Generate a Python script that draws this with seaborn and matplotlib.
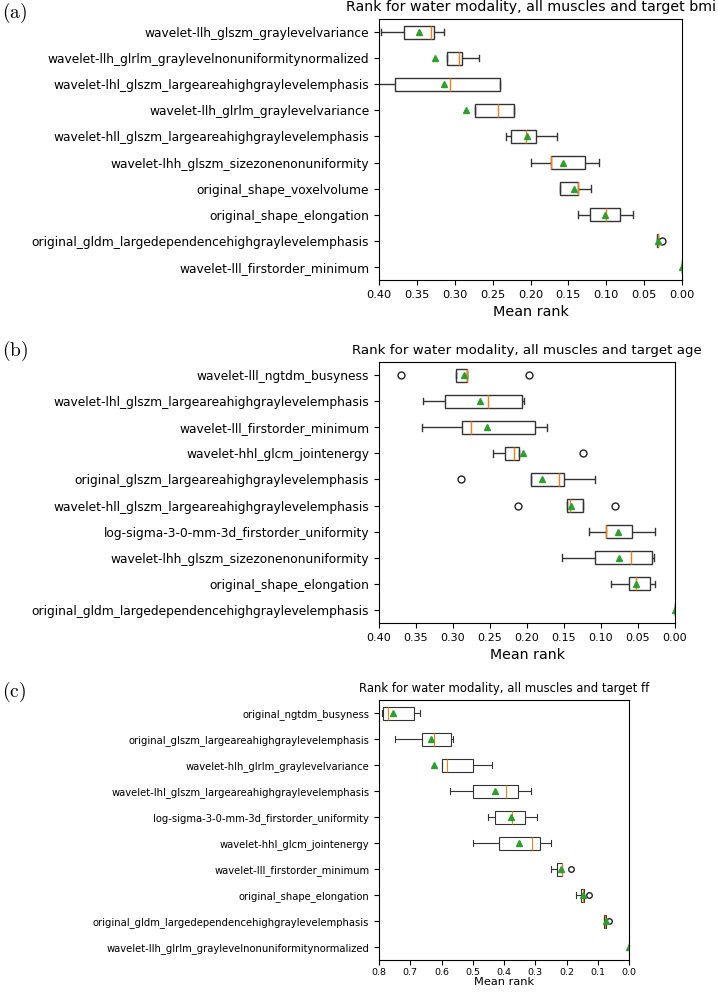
import numpy as np
import pandas as pd
import seaborn as sns
import matplotlib.pyplot as plt

plt.rcParams['mathtext.fontset'] = 'cm'

# (a) target bmi
features_bmi = ['wavelet-llh_glszm_graylevelvariance',
                'wavelet-llh_glrlm_graylevelnonuniformitynormalized',
                'wavelet-lhl_glszm_largeareahighgraylevelemphasis',
                'wavelet-llh_glrlm_graylevelvariance',
                'wavelet-hll_glszm_largeareahighgraylevelemphasis',
                'wavelet-lhh_glszm_sizezonenonuniformity',
                'original_shape_voxelvolume',
                'original_shape_elongation',
                'original_gldm_largedependencehighgraylevelemphasis',
                'wavelet-lll_firstorder_minimum']
ranks_bmi = [[0.314, 0.3269, 0.3313, 0.3665, 0.398],
             [0.2674, 0.2899, 0.2938, 0.3106, 0.468],
             [0.2401, 0.2401, 0.3061, 0.3788, 0.4054],
             [0.2216, 0.2216, 0.2432, 0.2731, 0.4675],
             [0.1652, 0.1929, 0.2062, 0.2255, 0.2326],
             [0.1101, 0.1286, 0.1727, 0.1727, 0.1995],
             [0.1198, 0.137, 0.137, 0.1608, 0.1608],
             [0.0648, 0.0815, 0.1009, 0.1211, 0.1379],
             [0.0264, 0.0316, 0.0322, 0.0328, 0.0333],
             [0.0, 0.0, 0.0, 0.0, 0.0]]

# (b) target age
features_age = ['wavelet-lll_ngtdm_busyness',
                'wavelet-lhl_glszm_largeareahighgraylevelemphasis',
                'wavelet-lll_firstorder_minimum',
                'wavelet-hhl_glcm_jointenergy',
                'original_glszm_largeareahighgraylevelemphasis',
                'wavelet-hll_glszm_largeareahighgraylevelemphasis',
                'log-sigma-3-0-mm-3d_firstorder_uniformity',
                'wavelet-lhh_glszm_sizezonenonuniformity',
                'original_shape_elongation',
                'original_gldm_largedependencehighgraylevelemphasis']
ranks_age = [[0.1976, 0.2813, 0.2813, 0.2966, 0.3704],
             [0.2039, 0.206, 0.207, 0.2186, 0.2525, 0.305, 0.311, 0.325, 0.3407],
             [0.1728, 0.1895, 0.2759, 0.2885, 0.3416],
             [0.1247, 0.2102, 0.2174, 0.2291, 0.2466],
             [0.108, 0.1503, 0.1566, 0.194, 0.2894],
             [0.081, 0.1242, 0.1422, 0.1458, 0.212],
             [0.027, 0.0576, 0.0936, 0.0936, 0.1161],
             [0.0288, 0.0306, 0.059, 0.108, 0.1521],
             [0.0275, 0.0338, 0.0531, 0.0626, 0.0864],
             [0.0, 0.0, 0.0, 0.0, 0.0]]

# (c) target ff
features_ff = ['original_ngtdm_busyness',
               'original_glszm_largeareahighgraylevelemphasis',
               'wavelet-hlh_glrlm_graylevelvariance',
               'wavelet-lhl_glszm_largeareahighgraylevelemphasis',
               'log-sigma-3-0-mm-3d_firstorder_uniformity',
               'wavelet-hhl_glcm_jointenergy',
               'wavelet-lll_firstorder_minimum',
               'original_shape_elongation',
               'original_gldm_largedependencehighgraylevelemphasis',
               'wavelet-llh_glrlm_graylevelnonuniformitynormalized']
ranks_ff = [[0.668, 0.668, 0.687, 0.687, 0.770, 0.770, 0.787, 0.792, 0.957],
            [0.5623, 0.5708, 0.623, 0.6635, 0.7476],
            [0.4377, 0.4995, 0.5836, 0.5975, 0.9967],
            [0.3131, 0.3568, 0.3951, 0.4995, 0.5719],
            [0.2939, 0.3344, 0.3759, 0.4292, 0.4505],
            [0.2503, 0.2854, 0.3089, 0.4175, 0.5006],
            [0.186, 0.2141, 0.2151, 0.23, 0.2503],
            [0.1267, 0.1435, 0.148, 0.154, 0.1683],
            [0.0639, 0.0735, 0.0757, 0.079, 0.0795],
            [0.0, 0.0, 0.0, 0.0, 0.0]]

W, H = 718, 992
fig = plt.figure(figsize=(W / 100, H / 100), dpi=100)


def panel(box, features, ranks, target, xmax, step, ytick_fs, xtick_fs, title_fs, label_fs, lw, ms, pad=3.5, lpad=4):
    left, top, right, bottom = box
    ax = fig.add_axes([left / W, 1 - bottom / H, (right - left) / W, (bottom - top) / H])
    df = pd.DataFrame({'feature': np.repeat(features, [len(r) for r in ranks]),
                       'rank': np.concatenate(ranks)})
    sns.boxplot(data=df, x='rank', y='feature', order=features, ax=ax,
                width=0.5, color='white', linecolor='#333333', linewidth=lw,
                showmeans=True,
                meanprops=dict(marker='^', markerfacecolor='#2ca02c', markeredgecolor='#2ca02c', markersize=ms),
                medianprops=dict(color='#ff7f0e', linewidth=lw),
                flierprops=dict(marker='o', markerfacecolor='none', markeredgecolor='#222222', markersize=ms))
    ax.set_xlim(xmax, 0)
    ax.set_xticks(np.arange(0, xmax + step / 2, step))
    ax.tick_params(axis='y', labelsize=ytick_fs)
    ax.tick_params(axis='x', labelsize=xtick_fs, pad=pad)
    ax.set_ylabel('')
    ax.set_xlabel('Mean rank', fontsize=label_fs, labelpad=lpad)
    ax.set_title('Rank for water modality, all muscles and target ' + target, fontsize=title_fs)
    return ax


panel((379, 19, 682, 280), features_bmi, ranks_bmi, 'bmi', 0.40, 0.05, 8.8, 8.2, 10.2, 10.4, 1.0, 5)
panel((379, 362, 675, 623), features_age, ranks_age, 'age', 0.40, 0.05, 8.8, 8.0, 9.6, 10.2, 1.0, 5)
panel((379, 700, 629, 960), features_ff, ranks_ff, 'ff', 0.8, 0.1, 7.2, 6.8, 8.4, 8.2, 0.8, 4, pad=2, lpad=0.5)

fig.text(2 / W, 1 - 13 / H, r'$\mathrm{(a)}$', fontsize=14, va='center')
fig.text(2 / W, 1 - 351 / H, r'$\mathrm{(b)}$', fontsize=14, va='center')
fig.text(2 / W, 1 - 692 / H, r'$\mathrm{(c)}$', fontsize=14, va='center')

fig.savefig('out.png', dpi=100)
